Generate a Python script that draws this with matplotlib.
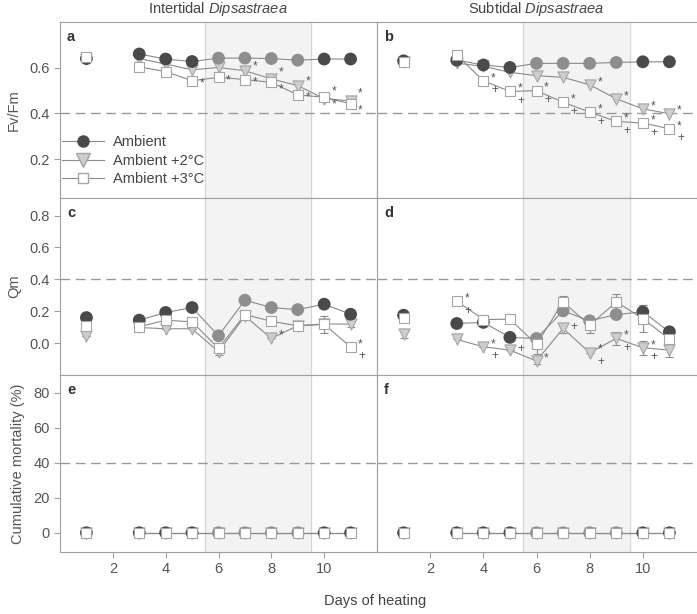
import numpy as np
import matplotlib
matplotlib.use('Agg')
import matplotlib.pyplot as plt
from matplotlib.lines import Line2D

plt.rcParams['font.family'] = ['Liberation Sans', 'DejaVu Sans']
plt.rcParams['mathtext.fontset'] = 'custom'
plt.rcParams['mathtext.rm'] = 'Liberation Sans'
plt.rcParams['mathtext.it'] = 'Liberation Sans:italic'

# days of heating (day 2 missing)
days = [1, 3, 4, 5, 6, 7, 8, 9, 10, 11]

# Fv/Fm
fv_int_amb = [0.640, 0.660, 0.638, 0.627, 0.642, 0.642, 0.640, 0.633, 0.638, 0.638]
fv_int_p2 = [0.640, 0.640, 0.616, 0.591, 0.601, 0.587, 0.551, 0.522, 0.464, 0.455]
fv_int_p3 = [0.645, 0.604, 0.583, 0.543, 0.558, 0.548, 0.536, 0.481, 0.471, 0.442]

fv_sub_amb = [0.630, 0.633, 0.612, 0.601, 0.619, 0.619, 0.619, 0.623, 0.626, 0.626]
fv_sub_p2 = [0.625, 0.620, 0.606, 0.580, 0.565, 0.558, 0.525, 0.464, 0.420, 0.399]
fv_sub_p3 = [0.623, 0.655, 0.543, 0.496, 0.500, 0.449, 0.406, 0.365, 0.358, 0.333]

# Qm
qm_int_amb = [0.160, 0.144, 0.192, 0.223, 0.046, 0.269, 0.223, 0.210, 0.244, 0.181]
qm_int_p2 = [0.044, 0.098, 0.090, 0.090, -0.054, 0.170, 0.029, 0.110, 0.120, 0.119]
qm_int_p3 = [0.106, 0.102, 0.144, 0.133, -0.033, 0.179, 0.137, 0.108, 0.117, -0.023]

qm_sub_amb = [0.175, 0.123, 0.130, 0.036, 0.029, 0.202, 0.140, 0.179, 0.196, 0.071]
qm_sub_p2 = [0.056, 0.023, -0.023, -0.044, -0.112, 0.092, -0.060, 0.029, -0.029, -0.044]
qm_sub_p3 = [0.160, 0.264, 0.148, 0.150, -0.008, 0.258, 0.112, 0.258, 0.154, 0.025]

# Qm error bars (only where visible)
qm_int_amb_err = [0, 0.03, 0, 0, 0, 0, 0, 0, 0, 0]
qm_int_p2_err = [0, 0, 0, 0, 0.02, 0, 0, 0, 0, 0.02]
qm_int_p3_err = [0, 0.02, 0, 0, 0, 0, 0, 0.02, 0.055, 0]
qm_sub_amb_err = [0, 0, 0, 0, 0, 0, 0, 0, 0.04, 0]
qm_sub_p2_err = [0.025, 0, 0, 0, 0.02, 0.03, 0, 0.04, 0.045, 0.04]
qm_sub_p3_err = [0, 0, 0.03, 0, 0.06, 0.035, 0.05, 0.05, 0.085, 0]

# cumulative mortality (%)
mort_amb = [0, 0, 0, 0, 0, 0, 0, 0, 0, 0]
mort_p2 = [0, 0, 0, 0, 0, 0, 0, 0, 0, 0]
mort_p3 = [0, 0, 0, 0, 0, 0, 0, 0, 0, 0]

# significance marks: (series, day, label, star offset in points)
sig_a = ([('p3', d, '*', -2) for d in [5, 6, 7, 9]] + [('p3', d, '*', -5) for d in [8, 10, 11]]
         + [('p2', d, '*', 3) for d in [7, 9]] + [('p2', d, '*', 5) for d in [8, 10, 11]])
sig_b = [('p3', d, '*+', 2) for d in [4, 5, 6, 7, 8, 9, 10, 11]] + [('p2', d, '*', 2) for d in [8, 9, 10, 11]]
sig_c = [('p2', 8, '*', 2), ('p3', 11, '*+', 2)]
sig_d = [('p3', 3, '*+', 2), ('p2', 4, '*+', 2), ('p2', 5, '+', 2), ('p2', 6, '*', 2), ('p2', 7, '+', 2),
         ('p2', 8, '*+', 2), ('p2', 9, '*+', 2), ('p2', 10, '*+', 2)]

dark = '#4a4a4a'
mid = '#8e8e8e'
tri_fc = '#cdcdcd'
edge = '#a5a5a5'
line_c = '#8a8a8a'
txt = '#555555'

W, H = 697, 614
fig = plt.figure(figsize=(W / 100, H / 100), dpi=100)


def pos(x0, y0, x1, y1):
    return [x0 / W, 1 - y1 / H, (x1 - x0) / W, (y1 - y0) / H]


cols = [(60, 377), (377, 696)]
rows = [(22, 198), (198, 375), (375, 552)]
ylims = [(0.03, 0.80), (-0.2, 0.91), (-11, 90.3)]
yticks = [[0.2, 0.4, 0.6], [0.0, 0.2, 0.4, 0.6, 0.8], [0, 20, 40, 60, 80]]
ylabels = ['Fv/Fm', 'Qm', 'Cumulative mortality (%)']
hlines = [0.4, 0.4, 40]
letters = [['a', 'b'], ['c', 'd'], ['e', 'f']]

data = [
    [(fv_int_amb, fv_int_p2, fv_int_p3, None), (fv_sub_amb, fv_sub_p2, fv_sub_p3, None)],
    [(qm_int_amb, qm_int_p2, qm_int_p3, (qm_int_amb_err, qm_int_p2_err, qm_int_p3_err)),
     (qm_sub_amb, qm_sub_p2, qm_sub_p3, (qm_sub_amb_err, qm_sub_p2_err, qm_sub_p3_err))],
    [(mort_amb, mort_p2, mort_p3, None), (mort_amb, mort_p2, mort_p3, None)],
]
sigs = [[sig_a, sig_b], [sig_c, sig_d], [[], []]]

amb_colors = [mid if 5.5 < d < 9.5 else dark for d in days]

for r in range(3):
    for c in range(2):
        ax = fig.add_axes(pos(cols[c][0], rows[r][0], cols[c][1], rows[r][1]))
        amb, p2, p3, errs = data[r][c]
        ax.axvspan(5.5, 9.5, color='#f3f3f3', zorder=0)
        ax.axvline(5.5, color='#d4d4d4', lw=0.8, zorder=0.5)
        ax.axvline(9.5, color='#d4d4d4', lw=0.8, zorder=0.5)
        ax.axhline(hlines[r], color='#999999', lw=1.0, ls=(0, (7, 4)), zorder=1)

        if errs is not None:
            for vals, e in zip((amb, p2, p3), errs):
                ax.errorbar(days, vals, yerr=e, fmt='none', ecolor='#8a8a8a',
                            elinewidth=0.8, capsize=3, capthick=0.8, zorder=2)

        ax.plot(days[1:], amb[1:], color=line_c, lw=0.8, zorder=2)
        ax.plot(days[1:], p2[1:], color=line_c, lw=0.8, zorder=2)
        ax.plot(days[1:], p3[1:], color=line_c, lw=0.8, zorder=2)
        ax.scatter(days, p2, s=65, marker='v', c=tri_fc, edgecolors=edge, linewidths=0.8, zorder=3)
        ax.scatter(days, amb, s=85, c=amb_colors, edgecolors='none', zorder=4)
        ax.scatter(days, p3, s=60, marker='s', c='white', edgecolors=edge, linewidths=0.8, zorder=5)

        series = {'p2': p2, 'p3': p3}
        for s_name, d, lab, sy in sigs[r][c]:
            v = series[s_name][days.index(d)]
            if '*' in lab:
                ax.annotate('*', (d, v), xytext=(5.5, sy), textcoords='offset points',
                            ha='left', va='center', fontsize=8.5, color=txt, zorder=6)
            if '+' in lab:
                dy = sy - 9 if '*' in lab else 1
                ax.annotate('+', (d, v), xytext=(5.5, dy), textcoords='offset points',
                            ha='left', va='center', fontsize=8.5, color=txt, zorder=6)

        ax.set_xlim(0, 12)
        ax.set_ylim(*ylims[r])
        for sp in ax.spines.values():
            sp.set_color('#a0a0a0')
            sp.set_linewidth(0.8)
        if c == 1:
            ax.spines['right'].set_visible(False)
        ax.tick_params(colors='#a0a0a0', labelcolor=txt, labelsize=10.5, width=0.8, length=4)
        if c == 0:
            ax.set_yticks(yticks[r])
            if r < 2:
                ax.set_yticklabels(['%.1f' % t for t in yticks[r]])
            ax.set_ylabel(ylabels[r], fontsize=10.5, color=txt, labelpad=6)
        else:
            ax.set_yticks([])
        if r == 2:
            ax.set_xticks([2, 4, 6, 8, 10])
        else:
            ax.set_xticks([])
        ax.text(0.022, 0.955, letters[r][c], transform=ax.transAxes, ha='left', va='top',
                fontsize=10.5, fontweight='bold', color='#333333')

        if r == 0 and c == 0:
            handles = [
                Line2D([], [], color=line_c, lw=0.8, marker='o', markersize=9,
                       markerfacecolor=dark, markeredgecolor='none'),
                Line2D([], [], color=line_c, lw=0.8, marker='v', markersize=9.5,
                       markerfacecolor=tri_fc, markeredgecolor=edge),
                Line2D([], [], color=line_c, lw=0.8, marker='s', markersize=7.8,
                       markerfacecolor='white', markeredgecolor=edge),
            ]
            ax.legend(handles, ['Ambient', 'Ambient +2\u00b0C', 'Ambient +3\u00b0C'],
                      loc='lower left', bbox_to_anchor=(-0.012, 0.035), frameon=False,
                      fontsize=10.5, handlelength=2.9, handletextpad=0.6,
                      labelspacing=0.3, borderaxespad=0, labelcolor='#444444')

fig.text(218 / W, 1 - 9 / H, 'Intertidal $\\it{Dipsastraea}$', ha='center', va='center',
         fontsize=10.5, color='#444444')
fig.text(536 / W, 1 - 9 / H, 'Subtidal $\\it{Dipsastraea}$', ha='center', va='center',
         fontsize=10.5, color='#444444')
fig.text(375 / W, 1 - 601 / H, 'Days of heating', ha='center', va='center',
         fontsize=10.5, color='#444444')

fig.savefig('out.png', dpi=100)
